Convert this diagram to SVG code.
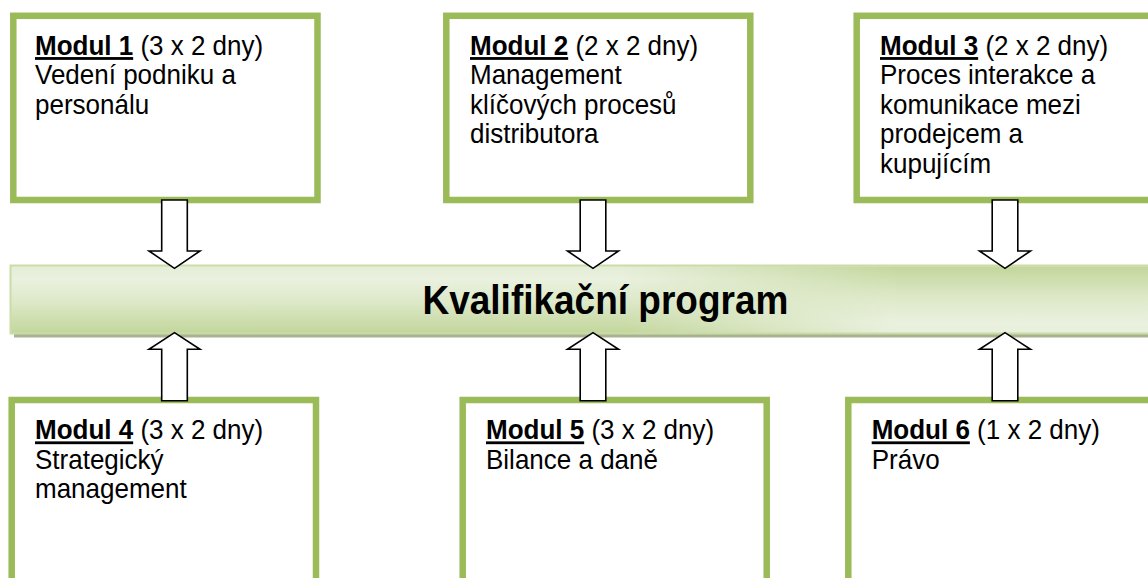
<svg xmlns="http://www.w3.org/2000/svg" width="1148" height="578" viewBox="0 0 1148 578">
  <style>
    .box { fill: #ffffff; stroke: #9bbb59; stroke-width: 6.5; }
    .txt { font-family: "Liberation Sans", Arial, sans-serif; font-size: 26px; fill: #000000; }
    .hd { font-weight: bold; text-decoration: underline; }
    .title { font-family: "Liberation Sans", Arial, sans-serif; font-size: 37px; font-weight: bold; fill: #000000; }
    .arrow { fill: #ffffff; stroke: #000000; stroke-width: 1.6; stroke-linejoin: miter; }
  </style>
  <defs>
    <linearGradient id="gDown" x1="0" y1="0" x2="0" y2="1">
      <stop offset="0" stop-color="#e4edd6"/>
      <stop offset="0.2" stop-color="#eaf1df"/>
      <stop offset="0.55" stop-color="#dce8c7"/>
      <stop offset="1" stop-color="#c3d69b"/>
    </linearGradient>
    <linearGradient id="gUp" x1="0" y1="0" x2="0" y2="1">
      <stop offset="0" stop-color="#c3d69b"/>
      <stop offset="0.45" stop-color="#dce8c7"/>
      <stop offset="0.85" stop-color="#eaf1df"/>
      <stop offset="1" stop-color="#e8f0dc"/>
    </linearGradient>
    <linearGradient id="gMask" gradientUnits="userSpaceOnUse" x1="620" y1="0" x2="900" y2="0">
      <stop offset="0" stop-color="#000000"/>
      <stop offset="1" stop-color="#ffffff"/>
    </linearGradient>
    <mask id="mRight" maskUnits="userSpaceOnUse" x="0" y="0" width="1148" height="578">
      <rect x="0" y="0" width="1148" height="578" fill="url(#gMask)"/>
    </mask>
  </defs>

  <g id="banner">
    <rect x="14" y="269" width="1150" height="68.5" fill="#a7b38f"/>
    <rect x="10.5" y="265.5" width="1150" height="68" fill="url(#gDown)" stroke="#cbdca8" stroke-width="2"/>
    <rect x="11.5" y="266.5" width="1148" height="66" fill="url(#gUp)" mask="url(#mRight)"/>
    <text class="title" x="422.5" y="314.3" transform="matrix(1,0,0,1.1,0,-31.43)">Kvalifikační program</text>
  </g>

  <g id="modul1">
    <rect class="box" x="13.3" y="15.8" width="304.2" height="184.2"/>
    <text class="txt" x="35" y="55" transform="matrix(1,0,0,1.08,0,-4.4)"><tspan class="hd">Modul 1</tspan> (3 x 2 dny)</text>
    <text class="txt" x="35" y="84.5" transform="matrix(1,0,0,1.08,0,-6.76)">Vedení podniku a</text>
    <text class="txt" x="35" y="114" transform="matrix(1,0,0,1.08,0,-9.12)">personálu</text>
  </g>

  <g id="modul2">
    <rect class="box" x="446.3" y="15.8" width="304" height="184.2"/>
    <text class="txt" x="470" y="55" transform="matrix(1,0,0,1.08,0,-4.4)"><tspan class="hd">Modul 2</tspan> (2 x 2 dny)</text>
    <text class="txt" x="470" y="84.5" transform="matrix(1,0,0,1.08,0,-6.76)">Management</text>
    <text class="txt" x="470" y="114" transform="matrix(1,0,0,1.08,0,-9.12)">klíčových procesů</text>
    <text class="txt" x="470" y="143.5" transform="matrix(1,0,0,1.08,0,-11.48)">distributora</text>
  </g>

  <g id="modul3">
    <rect class="box" x="856.7" y="15.8" width="310" height="184.2"/>
    <text class="txt" x="880" y="55" transform="matrix(1,0,0,1.08,0,-4.4)"><tspan class="hd">Modul 3</tspan> (2 x 2 dny)</text>
    <text class="txt" x="880" y="84.5" transform="matrix(1,0,0,1.08,0,-6.76)">Proces interakce a</text>
    <text class="txt" x="880" y="114" transform="matrix(1,0,0,1.08,0,-9.12)">komunikace mezi</text>
    <text class="txt" x="880" y="143.5" transform="matrix(1,0,0,1.08,0,-11.48)">prodejcem a</text>
    <text class="txt" x="880" y="173" transform="matrix(1,0,0,1.08,0,-13.84)">kupujícím</text>
  </g>

  <g id="modul4">
    <rect class="box" x="11.7" y="400" width="304.3" height="200"/>
    <text class="txt" x="35" y="439.3" transform="matrix(1,0,0,1.08,0,-35.14)"><tspan class="hd">Modul 4</tspan> (3 x 2 dny)</text>
    <text class="txt" x="35" y="468.8" transform="matrix(1,0,0,1.08,0,-37.5)">Strategický</text>
    <text class="txt" x="35" y="498.3" transform="matrix(1,0,0,1.08,0,-39.86)">management</text>
  </g>

  <g id="modul5">
    <rect class="box" x="462.7" y="400" width="304" height="200"/>
    <text class="txt" x="486" y="439.3" transform="matrix(1,0,0,1.08,0,-35.14)"><tspan class="hd">Modul 5</tspan> (3 x 2 dny)</text>
    <text class="txt" x="486" y="468.8" transform="matrix(1,0,0,1.08,0,-37.5)">Bilance a daně</text>
  </g>

  <g id="modul6">
    <rect class="box" x="848.3" y="400" width="310" height="200"/>
    <text class="txt" x="871.7" y="439.3" transform="matrix(1,0,0,1.08,0,-35.14)"><tspan class="hd">Modul 6</tspan> (1 x 2 dny)</text>
    <text class="txt" x="871.7" y="468.8" transform="matrix(1,0,0,1.08,0,-37.5)">Právo</text>
  </g>

  <g id="connectors">
    <path class="arrow" d="M161.7,200 H187.3 V251 H200 L174.5,268.3 L149,251 H161.7 Z"/>
    <path class="arrow" d="M580.2,200 H605.8 V251 H618.5 L593,268.3 L567.5,251 H580.2 Z"/>
    <path class="arrow" d="M992.2,200 H1017.8 V251 H1030.5 L1005,268.3 L979.5,251 H992.2 Z"/>
    <path class="arrow" d="M161.7,400.7 H187.3 V349.3 H200 L174.5,332.7 L149,349.3 H161.7 Z"/>
    <path class="arrow" d="M580.2,400.7 H605.8 V349.3 H618.5 L593,332.7 L567.5,349.3 H580.2 Z"/>
    <path class="arrow" d="M992.2,400.7 H1017.8 V349.3 H1030.5 L1005,332.7 L979.5,349.3 H992.2 Z"/>
  </g>
</svg>
